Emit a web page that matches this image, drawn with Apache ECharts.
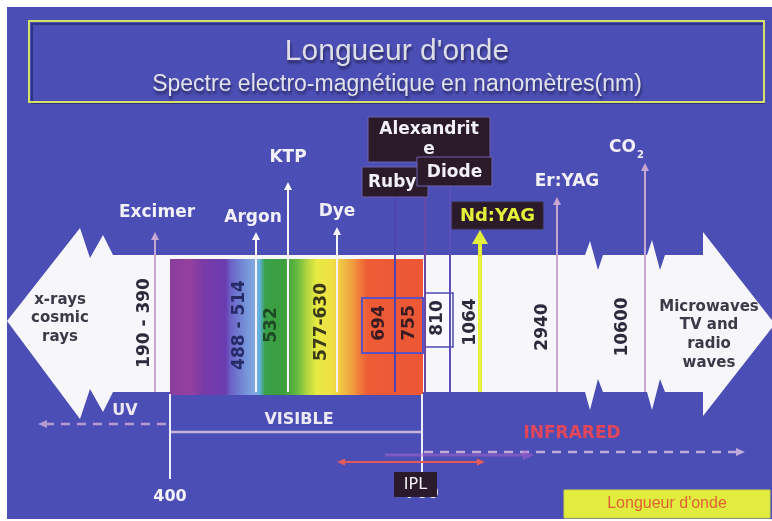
<!DOCTYPE html>
<html>
<head>
<meta charset="utf-8">
<script src="https://cdn.jsdelivr.net/npm/echarts@6/dist/echarts.min.js"></script>
<style>
  html, body { margin: 0; padding: 0; background: #fff; }
  #chart { width: 772px; height: 521px; }
</style>
</head>
<body>
<div id="chart"></div>
<script>
// lasers and their wavelength (nm)
var lasers = ['Excimer', 'Argon', 'KTP', 'Dye', 'Ruby', 'Alexandrite', 'Diode', 'Nd:YAG', 'Er:YAG', 'CO2'];
var wavelengths = ['190 - 390', '488 - 514', '532', '577-630', '694', '755', '810', '1064', '2940', '10600'];
var visibleRange = ['400', '700'];
var regions = ['UV', 'VISIBLE', 'INFRARED'];
var leftEnd = ['x-rays', 'cosmic', 'rays'];
var rightEnd = ['Microwaves', 'TV and', 'radio', 'waves'];
var titleText = "Longueur d'onde";
var subtitleText = 'Spectre electro-magnétique en nanomètres(nm)';
var badgeText = "Longueur d'onde";
var pulsedLight = 'IPL';

// layout of the drawing (pixel grid)
var laserX = [155, 256, 288, 337, 395, 425, 450, 480, 557, 645];
var arrowTop = [232, 232, 182, 227, 197, 162, 186, 230, 197, 163];
var lineColor = ['#c9a6d2', '#f4f4fa', '#f4f4fa', '#f4f4fa', '#4c44b0', '#6a48a8', '#5a50b8', '#e4ef3a', '#c9a6d2', '#c9a6d2'];
var labelKind = ['plain', 'plain', 'plain', 'plain', 'box', 'box', 'box', 'yellow', 'plain', 'sub'];
var labelAt = [[157, 213], [253, 218], [288, 158], [337, 212], [362, 167, 66, 30], [368, 117, 122, 45],
  [417, 157, 75, 29], [452, 202, 91, 27], [567, 182], [632, 148]];
var waveAt = [[145, 323], [240, 325], [272, 325], [322, 322], [380, 323], [410, 323], [438, 318], [471, 322], [543, 327], [623, 327]];
var waveColor = ['#2c2a3c', '#262a66', '#1d4a22', '#3a3a1a', '#3a1c22', '#3a1c22', '#2c2a3c', '#2c2a3c', '#2c2a3c', '#2c2a3c'];

var FONT = 'DejaVu Sans';
var T = 255, B = 392;
var BLUE = '#4b4eb4';

var chart = echarts.init(document.getElementById('chart'));

function head(x, y, dir, w, h, color, z) {
  var pts;
  if (dir === 'up') pts = [[x, y], [x - w / 2, y + h], [x + w / 2, y + h]];
  else if (dir === 'left') pts = [[x, y], [x + h, y - w / 2], [x + h, y + w / 2]];
  else pts = [[x, y], [x - h, y - w / 2], [x - h, y + w / 2]];
  return { type: 'polygon', z: z || 1, shape: { points: pts }, style: { fill: color } };
}
function txt(x, y, s, font, color, z, align) {
  return { type: 'text', x: x, y: y, z: z || 3,
    style: { text: s, font: font, fill: color, textAlign: align || 'center', textVerticalAlign: 'middle' } };
}

var band = [[7, 321], [80, 228], [90, 258], [103, 235], [113, T],
  [585, T], [590, T - 14], [598, T + 15], [603, T], [647, T], [652, T - 15], [660, T + 15], [665, T],
  [703, T], [703, 232], [775, 324], [703, 416], [703, B],
  [665, B], [660, B - 13], [652, B + 18], [647, B], [603, B], [598, B - 13], [590, B + 18], [585, B],
  [113, B], [103, B + 20], [90, B - 3], [80, 419]];

var spectrumStops = [
  [0, '#8a3d9e'], [0.08, '#96409f'], [0.13, '#7a3aa8'], [0.22, '#6a3cb0'], [0.24, '#6a62c6'],
  [0.3, '#7694da'], [0.34, '#82aae2'], [0.355, '#5eb2da'], [0.375, '#3aa04a'], [0.45, '#3c9e3c'],
  [0.5, '#62b840'], [0.54, '#b0d440'], [0.58, '#e8ea42'], [0.64, '#f0e046'], [0.68, '#f0c242'],
  [0.72, '#f0a040'], [0.75, '#f07a3a'], [0.78, '#ee5c36'], [1, '#ec5636']
].map(function (s) { return { offset: s[0], color: s[1] }; });

var graphics = [
  { type: 'rect', z: 0, shape: { x: 7, y: 7, width: 770, height: 512 }, style: { fill: BLUE } },
  // title frame
  { type: 'rect', z: 1, shape: { x: 32, y: 24, width: 732, height: 79 }, style: { fill: 'none', stroke: 'rgba(30,30,90,0.55)', lineWidth: 2 } },
  { type: 'rect', z: 1, shape: { x: 29, y: 21, width: 735, height: 81 }, style: { fill: 'none', stroke: '#d6e266', lineWidth: 2 } },
  { type: 'text', x: 397, y: 52, z: 3, style: { text: titleText, font: '30px "Liberation Sans"', fill: '#dedee8',
    textAlign: 'center', textVerticalAlign: 'middle', textShadowColor: 'rgba(25,25,70,0.8)', textShadowBlur: 3, textShadowOffsetX: 1, textShadowOffsetY: 3 } },
  { type: 'text', x: 397, y: 85, z: 3, style: { text: subtitleText, font: '23px "Liberation Sans"', fill: '#e2e2ec',
    textAlign: 'center', textVerticalAlign: 'middle', textShadowColor: 'rgba(25,25,70,0.8)', textShadowBlur: 3, textShadowOffsetX: 1, textShadowOffsetY: 3 } },
  // white band with the two arrow heads
  { type: 'polygon', z: 1, shape: { points: band }, style: { fill: '#f7f7fb' } },
  // visible spectrum
  { type: 'rect', z: 1, shape: { x: 170, y: 259, width: 253, height: 136 },
    style: { fill: new echarts.graphic.LinearGradient(0, 0, 1, 0, spectrumStops) } },
  // boxes round 694 / 755 and 810
  { type: 'rect', z: 1, shape: { x: 362, y: 298, width: 61, height: 55 }, style: { fill: 'none', stroke: '#5a52c2', lineWidth: 2 } },
  { type: 'rect', z: 1, shape: { x: 425, y: 293, width: 28, height: 54 }, style: { fill: '#fafafe', stroke: '#4a48b2', lineWidth: 1.5 } },
  // band end texts
  txt(60, 300, leftEnd[0], 'bold 15px "' + FONT + '"', '#3a3a48'),
  txt(60, 318, leftEnd[1], 'bold 15px "' + FONT + '"', '#3a3a48'),
  txt(60, 337, leftEnd[2], 'bold 15px "' + FONT + '"', '#3a3a48'),
  txt(709, 307, rightEnd[0], 'bold 15px "' + FONT + '"', '#3a3a48'),
  txt(709, 325, rightEnd[1], 'bold 15px "' + FONT + '"', '#3a3a48'),
  txt(709, 344, rightEnd[2], 'bold 15px "' + FONT + '"', '#3a3a48'),
  txt(709, 363, rightEnd[3], 'bold 15px "' + FONT + '"', '#3a3a48'),
  // bottom range markers
  { type: 'line', z: 1, shape: { x1: 170, y1: 394, x2: 170, y2: 479 }, style: { stroke: '#f0f0f8', lineWidth: 2 } },
  { type: 'line', z: 1, shape: { x1: 422, y1: 394, x2: 422, y2: 480 }, style: { stroke: '#f0f0f8', lineWidth: 2 } },
  { type: 'line', z: 1, shape: { x1: 171, y1: 432, x2: 421, y2: 432 }, style: { stroke: '#c6b2da', lineWidth: 2.5 } },
  { type: 'line', z: 1, shape: { x1: 166, y1: 424, x2: 46, y2: 424 }, style: { stroke: '#b89ad2', lineWidth: 2.5, lineDash: [9, 7] } },
  head(38, 424, 'left', 8, 9, '#b89ad2'),
  { type: 'line', z: 1, shape: { x1: 424, y1: 452, x2: 736, y2: 452 }, style: { stroke: '#c2aada', lineWidth: 2.5, lineDash: [9, 7] } },
  head(745, 452, 'right', 8, 9, '#c2aada'),
  { type: 'line', z: 1, shape: { x1: 385, y1: 455, x2: 524, y2: 455 }, style: { stroke: 'rgba(176,100,212,0.5)', lineWidth: 3 } },
  head(534, 455, 'right', 10, 11, 'rgba(176,100,212,0.5)'),
  { type: 'line', z: 2, shape: { x1: 344, y1: 462, x2: 478, y2: 462 }, style: { stroke: '#e25a5c', lineWidth: 2 } },
  head(337, 462, 'left', 7, 8, '#e25a5c', 2),
  head(485, 462, 'right', 7, 8, '#e25a5c', 2),
  txt(125, 411, regions[0], 'bold 16px "' + FONT + '"', '#ece8f4'),
  txt(299, 420, regions[1], 'bold 16px "' + FONT + '"', '#ece8f4'),
  txt(572, 434, regions[2], 'bold 17px "' + FONT + '"', '#e2465a'),
  txt(170, 497, visibleRange[0], 'bold 16px "' + FONT + '"', '#f4f4fa'),
  txt(422, 494, visibleRange[1], 'bold 16px "' + FONT + '"', '#f4f4fa'),
  { type: 'rect', z: 4, shape: { x: 394, y: 472, width: 43, height: 25 }, style: { fill: '#2a1a2c' } },
  txt(415.5, 485, pulsedLight, '16px "' + FONT + '"', '#f4f4f8', 5),
  // badge
  { type: 'rect', z: 4, shape: { x: 564, y: 490, width: 206, height: 28 }, style: { fill: '#e2ec3e', stroke: '#cfd640', lineWidth: 1 } },
  txt(667, 504, badgeText, '16px "Liberation Sans"', '#e06232', 5)
];

function renderLine(params, api) {
  var i = params.dataIndex;
  var top = api.coord([laserX[i], arrowTop[i]]);
  var bot = api.coord([laserX[i], B]);
  var c = lineColor[i];
  var kind = labelKind[i];
  var hasHead = kind !== 'box';
  var big = kind === 'yellow';
  var hh = big ? 14 : 8, hw = big ? 16 : 8;
  var children = [{ type: 'line', shape: { x1: top[0], y1: top[1] + (hasHead ? hh - 1 : 0), x2: bot[0], y2: bot[1] },
    style: { stroke: c, lineWidth: big ? 4 : 2 } }];
  if (hasHead) {
    children.push({ type: 'polygon', shape: { points: [[top[0], top[1]], [top[0] - hw / 2, top[1] + hh], [top[0] + hw / 2, top[1] + hh]] },
      style: { fill: c } });
  }
  return { type: 'group', children: children };
}

function renderLabel(params, api) {
  var i = params.dataIndex;
  var name = lasers[i];
  var kind = labelKind[i];
  var at = labelAt[i];
  var p = api.coord([at[0], at[1]]);
  var font = 'bold 17px "' + FONT + '"';
  var children = [];
  if (kind === 'plain') {
    children.push({ type: 'text', x: p[0], y: p[1], style: { text: name, font: font, fill: '#f2f0f8', textAlign: 'center', textVerticalAlign: 'middle' } });
  } else if (kind === 'sub') {
    children.push({ type: 'text', x: p[0] + 4, y: p[1], style: { text: name.slice(0, 2), font: font, fill: '#f2f0f8', textAlign: 'right', textVerticalAlign: 'middle' } });
    children.push({ type: 'text', x: p[0] + 5, y: p[1] + 7, style: { text: name.slice(2), font: 'bold 10px "' + FONT + '"', fill: '#f2f0f8', textAlign: 'left', textVerticalAlign: 'middle' } });
  } else {
    var w = at[2], h = at[3];
    var yellow = kind === 'yellow';
    children.push({ type: 'rect', shape: { x: p[0], y: p[1], width: w, height: h },
      style: { fill: '#2b1a2a', stroke: yellow ? '#3a2a3a' : '#7060b0', lineWidth: 1 } });
    if (name === 'Ruby') {
      children.push({ type: 'text', x: p[0] + 6, y: p[1] + h / 2 + 1, style: { text: name, font: font, fill: '#f2f0f8', textAlign: 'left', textVerticalAlign: 'middle' } });
    } else if (name === 'Alexandrite') {
      children.push({ type: 'text', x: p[0] + w / 2, y: p[1] + 13, style: { text: 'Alexandrit', font: font, fill: '#f2f0f8', textAlign: 'center', textVerticalAlign: 'middle' } });
      children.push({ type: 'text', x: p[0] + w / 2, y: p[1] + 33, style: { text: 'e', font: font, fill: '#f2f0f8', textAlign: 'center', textVerticalAlign: 'middle' } });
    } else {
      children.push({ type: 'text', x: p[0] + w / 2, y: p[1] + h / 2 + 1, style: { text: name, font: yellow ? 'bold 18px "' + FONT + '"' : font,
        fill: yellow ? '#e6f03a' : '#f2f0f8', textAlign: 'center', textVerticalAlign: 'middle' } });
    }
  }
  // wavelength, written vertically in the band
  var wp = api.coord(waveAt[i]);
  children.push({ type: 'text', x: wp[0], y: wp[1], rotation: Math.PI / 2,
    style: { text: wavelengths[i], font: 'bold 17px "' + FONT + '"', fill: waveColor[i], textAlign: 'center', textVerticalAlign: 'middle' } });
  return { type: 'group', children: children };
}

var seriesData = lasers.map(function (n, i) { return { name: n, value: [i, i] }; });

chart.setOption({
  animation: false,
  backgroundColor: '#ffffff',
  grid: { left: 0, top: 0, right: 0, bottom: 0 },
  xAxis: { type: 'value', min: 0, max: 772, show: false },
  yAxis: { type: 'value', min: 0, max: 521, inverse: true, show: false },
  graphic: { elements: graphics },
  series: [
    { type: 'custom', name: 'beams', z: 5, clip: false, renderItem: renderLine, data: seriesData },
    { type: 'custom', name: 'lasers', z: 6, clip: false, renderItem: renderLabel, data: seriesData }
  ]
});
</script>
</body>
</html>
